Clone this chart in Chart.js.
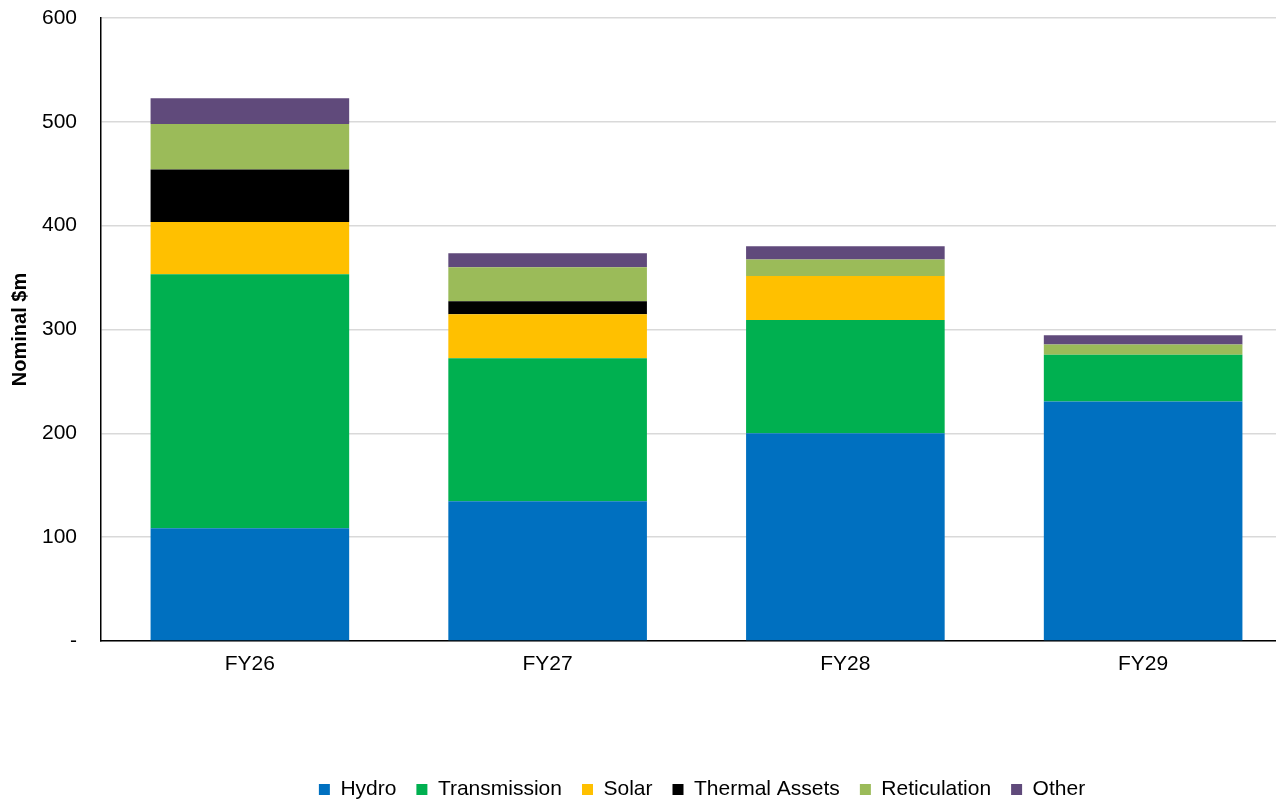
<!DOCTYPE html>
<html>
<head>
<meta charset="utf-8">
<script src="https://cdn.jsdelivr.net/npm/chart.js@4.4.1/dist/chart.umd.min.js"></script>
<style>
  html, body { margin: 0; padding: 0; background: #ffffff; overflow: hidden; }
  #wrap { position: relative; width: 1292px; height: 800px; }
</style>
</head>
<body>
<div id="wrap"><canvas id="chart"></canvas></div>
<script>
// Capital expenditure by asset class, nominal $m
const categories = ['FY26', 'FY27', 'FY28', 'FY29'];
const hydro        = [108.5, 134.7, 200.2, 230.7];
const transmission = [244.7, 137.7, 109.0, 44.9];
const solar        = [50.4, 42.3, 42.4, 0];
const thermal      = [50.4, 12.5, 0, 0];
const reticulation = [43.9, 32.8, 15.8, 10.0];
const other        = [24.7, 13.4, 12.8, 8.9];
const yTicks       = [0, 100, 200, 300, 400, 500, 600];

const FONT = '"Liberation Sans", Arial, sans-serif';

const series = [
  { label: 'Hydro',          data: hydro,        color: '#0070C0' },
  { label: 'Transmission',   data: transmission, color: '#00B050' },
  { label: 'Solar',          data: solar,        color: '#FFC000' },
  { label: 'Thermal Assets', data: thermal,      color: '#000000' },
  { label: 'Reticulation',   data: reticulation, color: '#9BBB59' },
  { label: 'Other',          data: other,        color: '#604A7B' }
];

// Move the legend row after layout so it sits at the foot of the canvas
const legendShift = {
  id: 'legendShift',
  afterLayout(chart) {
    const lg = chart.legend;
    if (!lg) return;
    const dx = 56, dy = 10;
    lg.left += dx; lg.right += dx;
    lg.top += dy; lg.bottom += dy;
    if (lg.legendHitBoxes) lg.legendHitBoxes.forEach(h => { h.left += dx; h.top += dy; });
  }
};

new Chart(document.getElementById('chart'), {
  type: 'bar',
  data: {
    labels: categories,
    datasets: series.map(s => ({
      label: s.label,
      data: s.data,
      backgroundColor: s.color,
      borderWidth: 0,
      categoryPercentage: 1.0,
      barPercentage: 0.667
    }))
  },
  options: {
    responsive: true,
    maintainAspectRatio: false,
    animation: false,
    layout: { padding: { top: 18, left: 0, right: 0, bottom: 0 } },
    scales: {
      x: {
        stacked: true,
        grid: { display: false, drawTicks: false },
        border: { display: true, color: '#000000', width: 1.5 },
        ticks: { color: '#000000', font: { family: FONT, size: 21 }, padding: 11 },
        afterFit(scale) { scale.height = 108; }
      },
      y: {
        stacked: true,
        min: 0,
        max: 600,
        afterBuildTicks(scale) { scale.ticks = yTicks.map(v => ({ value: v })); },
        grid: { color: '#D9D9D9', lineWidth: 1.5, drawTicks: false },
        border: { display: true, color: '#000000', width: 1.5 },
        ticks: {
          color: '#000000',
          font: { family: FONT, size: 21 },
          padding: 24,
          callback: v => (v === 0 ? '-' : v)
        },
        title: {
          display: true,
          text: 'Nominal $m',
          color: '#000000',
          font: { family: FONT, size: 20, weight: 'bold' },
          padding: { top: 8, bottom: 0 }
        },
        afterFit(scale) {
          scale.width = 101;
          scale.paddingTop = 0;
          scale.paddingBottom = 0;
        }
      }
    },
    plugins: {
      legend: {
        position: 'bottom',
        labels: {
          color: '#000000',
          font: { family: FONT, size: 21 },
          boxWidth: 11,
          boxHeight: 11,
          padding: 20
        }
      },
      tooltip: { enabled: false }
    }
  },
  plugins: [legendShift]
});
</script>
</body>
</html>
